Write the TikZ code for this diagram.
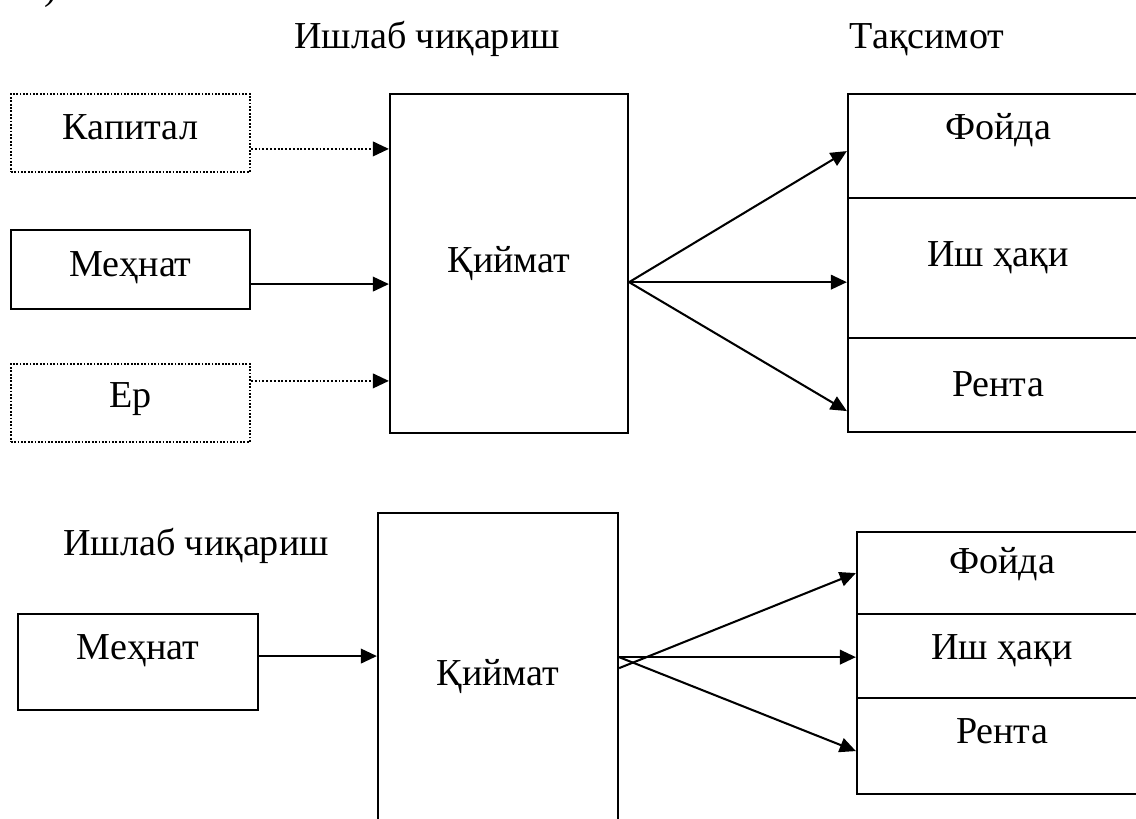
\documentclass[tikz,border=0pt]{standalone}
\usepackage{fontspec}
\setmainfont{Liberation Serif}
\usetikzlibrary{positioning, arrows.meta}

\begin{document}
\begin{tikzpicture}[
        x=0.012cm, y=-0.012cm, % one unit = one pixel of the scan
        every node/.style={font=\fontsize{13}{16}\selectfont}, % Text style
        box/.style={draw, line width=0.7pt, anchor=north, inner xsep=0pt, inner ysep=0pt}, % Box style
        dotbox/.style={box, line width=0.6pt, dash pattern=on 0.6pt off 0.55pt}, % Dotted box
        arrow/.style={-{Triangle[length=5.5pt,width=5pt]}, line width=0.7pt}, % Arrow style
        dotarrow/.style={arrow, dash pattern=on 0.65pt off 0.65pt} % Dotted arrow
    ]

    \useasboundingbox (0,0) rectangle (1136,818);

    % Cut-off item mark
    \node (mark) [anchor=base west, inner sep=0pt] at (44,-1) {)};

    % Upper scheme: headings
    \node (prod) [anchor=base] at (427,48) {Ишлаб чиқариш};
    \node (distr) [anchor=base] at (927,48) {Тақсимот};

    % Upper scheme: factors
    \node (kapital) [dotbox, minimum width=2.868cm, text height=0.552cm, text depth=0.384cm] at (130.5,93) {Капитал};
    \node (mehnat) [box, minimum width=2.868cm, text height=0.552cm, text depth=0.396cm] at (130.5,229) {Меҳнат};
    \node (yer) [dotbox, minimum width=2.868cm, text height=0.528cm, text depth=0.408cm] at (130.5,363) {Ер};

    % Upper scheme: value
    \node (qiymat) [box, minimum width=2.856cm, text height=2.136cm, text depth=1.932cm] at (509,93) {Қиймат};

    % Upper scheme: shares
    \node (foyda) [box, minimum width=3.6cm, text height=0.54cm, text depth=0.708cm] at (998,93) {Фойда};
    \node (ishhaqi) [box, minimum width=3.6cm, text height=0.816cm, text depth=0.864cm] at (998,197) {Иш ҳақи};
    \node (renta) [box, minimum width=3.6cm, text height=0.696cm, text depth=0.432cm] at (998,337) {Рента};

    % Upper scheme: factors to value
    \draw[dotarrow] ([yshift=-0.192cm]kapital.east) coordinate (kout) -- (kout -| qiymat.west);
    \draw[arrow] ([yshift=-0.174cm]mehnat.east) coordinate (mout) -- (mout -| qiymat.west);
    \draw[dotarrow] ([yshift=0.264cm]yer.east) coordinate (yout) -- (yout -| qiymat.west);

    % Upper scheme: value to shares
    \coordinate (qout) at ([yshift=-0.222cm]qiymat.east);
    \draw[arrow] (qout) -- ([yshift=-0.06cm]foyda.west);
    \draw[arrow] (qout) -- (qout -| ishhaqi.west);
    \draw[arrow] (qout) -- ([yshift=-0.312cm]renta.west);

    % Lower scheme
    \node (prodb) [anchor=base] at (196,555) {Ишлаб чиқариш};
    \node (mehnatb) [box, minimum width=2.88cm, text height=0.54cm, text depth=0.612cm] at (138,613) {Меҳнат};
    \node (qiymatb) [box, minimum width=2.88cm, text height=2.064cm, text depth=1.872cm] at (498,512) {Қиймат};
    \node (foydab) [box, minimum width=3.48cm, text height=0.492cm, text depth=0.492cm] at (1002,531) {Фойда};
    \node (ishhaqib) [box, minimum width=3.48cm, text height=0.54cm, text depth=0.468cm] at (1002,613) {Иш ҳақи};
    \node (rentab) [box, minimum width=3.48cm, text height=0.54cm, text depth=0.612cm] at (1002,697) {Рента};

    \draw[arrow] ([yshift=0.072cm]mehnatb.east) coordinate (mbout) -- (mbout -| qiymatb.west);
    \draw[arrow] ([yshift=0.108cm]qiymatb.east) -- (foydab.west);
    \draw[arrow] ([yshift=0.24cm]qiymatb.east) coordinate (qbout) -- (qbout -| ishhaqib.west);
    \draw[arrow] (qbout) -- ([yshift=-0.06cm]rentab.west);

\end{tikzpicture}
\end{document}
